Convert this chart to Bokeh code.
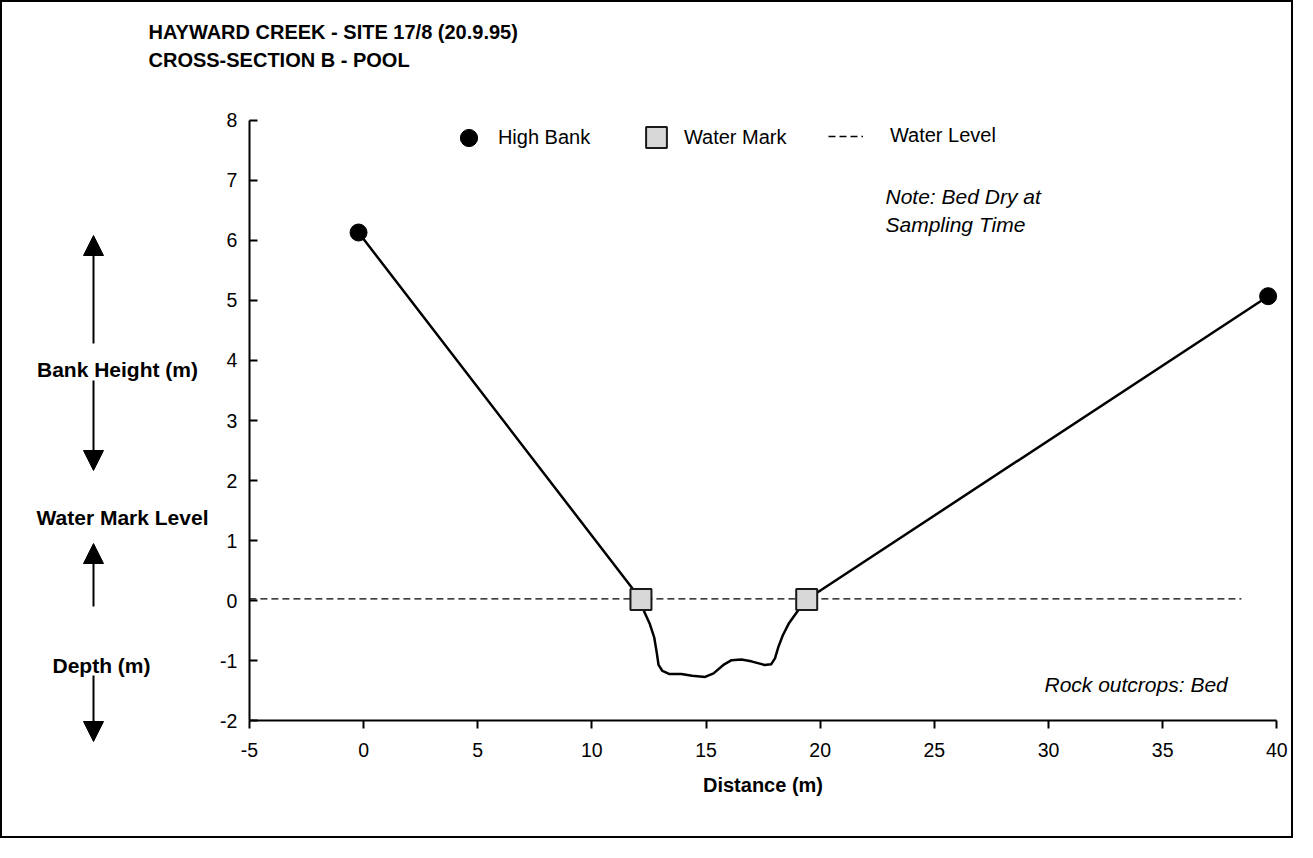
from bokeh.plotting import figure
from bokeh.models import (Range1d, FixedTicker, Label, Legend, LegendItem,
                          LinearAxis, Arrow, NormalHead)
from bokeh.embed import file_html
from bokeh.resources import INLINE

# ---------------- data ----------------
title_lines = ["HAYWARD CREEK  -  SITE 17/8  (20.9.95)", "CROSS-SECTION B  -  POOL"]
x_ticks = [-5, 0, 5, 10, 15, 20, 25, 30, 35, 40]
y_ticks = [-2, -1, 0, 1, 2, 3, 4, 5, 6, 7, 8]

bank_x = [-0.22, 39.62]          # High Bank
bank_y = [6.13, 5.07]
mark_x = [12.15, 19.41]          # Water Mark
mark_y = [0.02, 0.02]
bed_x = [12.30, 12.54, 12.73, 12.84, 12.92, 13.09, 13.38, 13.92, 14.39, 14.96,
         15.33, 15.76, 16.12, 16.55, 16.98, 17.56, 17.85, 18.02, 18.17, 18.36,
         18.64, 19.00]
bed_y = [-0.19, -0.39, -0.61, -0.86, -1.07, -1.17, -1.22, -1.22, -1.25, -1.27,
         -1.21, -1.07, -0.99, -0.98, -1.01, -1.07, -1.06, -0.96, -0.77, -0.58,
         -0.37, -0.18]
level_x = [-5.0, 38.45]          # Water Level
level_y = [0.03, 0.03]

legend_labels = ["High Bank", "Water Mark", "Water Level"]
side_labels = ["Bank Height (m)", "Water Mark Level", "Depth (m)"]
note_lines = ["Note:  Bed Dry at", "Sampling Time"]
rock_note = "Rock outcrops: Bed"
x_title = "Distance (m)"

FONT = "Liberation Sans"

profile_x = [bank_x[0], mark_x[0]] + bed_x + [mark_x[1], bank_x[1]]
profile_y = [bank_y[0], mark_y[0]] + bed_y + [mark_y[1], bank_y[1]]

# ---------------- layout (pixels) ----------------
W, H = 1293, 838
AX_L, AX_R = 246.9, 1274.3      # pixel x of -5 and 40
AX_T, AX_B = 117.7, 718.3       # pixel y of 8 and -2
XMIN, XMAX = x_ticks[0], x_ticks[-1]
YMIN, YMAX = y_ticks[0], y_ticks[-1]
sx = (AX_R - AX_L) / (XMAX - XMIN)
sy = (AX_B - AX_T) / (YMAX - YMIN)
x_range = Range1d(XMIN - AX_L / sx, XMAX + (W - AX_R) / sx)
y_range = Range1d(YMIN - (H - AX_B) / sy, YMAX + AX_T / sy)

p = figure(width=W, height=H, x_range=x_range, y_range=y_range,
           output_backend="svg", toolbar_location=None,
           x_axis_location=None, y_axis_location=None, min_border=0)
p.styles = {"border": "2px solid black"}
p.outline_line_color = None
p.grid.visible = False
p.background_fill_color = "white"
p.border_fill_color = "white"

xax = LinearAxis(fixed_location=YMIN, bounds=(XMIN, XMAX),
                 ticker=FixedTicker(ticks=x_ticks),
                 major_label_overrides={t: str(t) for t in x_ticks})
yax = LinearAxis(fixed_location=XMIN, bounds=(YMIN, YMAX),
                 ticker=FixedTicker(ticks=y_ticks),
                 major_label_overrides={t: str(t) for t in y_ticks})
for ax in (xax, yax):
    ax.axis_line_width = 2
    ax.axis_line_color = "black"
    ax.major_tick_line_width = 2
    ax.major_tick_line_color = "black"
    ax.minor_tick_line_color = None
    ax.major_label_text_font = FONT
    ax.major_label_text_font_size = "19.5px"
    ax.major_label_text_color = "black"
xax.major_tick_in = 0
xax.major_tick_out = 8
xax.major_label_standoff = 14
xax.axis_label = x_title
xax.axis_label_text_font = FONT
xax.axis_label_text_font_size = "20px"
xax.axis_label_text_font_style = "bold"
xax.axis_label_text_color = "black"
xax.axis_label_standoff = 14
yax.major_tick_in = 8
yax.major_tick_out = 0
yax.major_label_standoff = 12
p.add_layout(xax, "below")
p.add_layout(yax, "left")

# ---------------- glyphs ----------------
level_r = p.line(level_x, level_y, line_color="black", line_width=1.3, line_dash="7 4")
p.line(profile_x, profile_y, line_color="black", line_width=2.5, line_join="round")
bank_r = p.scatter(bank_x, bank_y, marker="circle", size=17,
                   fill_color="black", line_color="black")
mark_r = p.scatter(mark_x, mark_y, marker="square", size=21,
                   fill_color="#d8d8d8", line_color="#1a1a1a", line_width=2)

# ---------------- legends ----------------
FB = H - AX_B   # frame-bottom offset of the axes box


def add_legend(label, r, loc, gw, gh, standoff):
    lg = Legend(items=[LegendItem(label=label, renderers=[r])],
                location=(loc[0] + AX_L, loc[1] + FB),
                orientation="horizontal", padding=0, margin=0,
                glyph_width=gw, glyph_height=gh, label_standoff=standoff,
                border_line_color=None, background_fill_alpha=0,
                label_text_font=FONT, label_text_font_size="20px",
                label_text_color="black")
    p.add_layout(lg, "center")


add_legend(legend_labels[0], bank_r, (198, 561), 43, 43, 8)
add_legend(legend_labels[1], mark_r, (381, 557), 52, 52, 2)
add_legend(legend_labels[2], level_r, (579, 573), 35, 20, 27)


# ---------------- texts ----------------
def clabel(x, y, text, style="normal", size="20px", align="left"):
    p.add_layout(Label(x=x, y=y, x_units="canvas", y_units="canvas", text=text,
                       text_font=FONT, text_font_size=size, text_font_style=style,
                       text_align=align, text_baseline="middle", text_color="black"))


clabel(144, 27, title_lines[0], "bold", "20px")
clabel(144, 55, title_lines[1], "bold", "20px")
clabel(881, 192, note_lines[0], "italic", "21px")
clabel(881, 220, note_lines[1], "italic", "21px")
clabel(1040, 680, rock_note, "italic", "21px")
clabel(113, 365, side_labels[0], "bold", "21px", "center")
clabel(118, 513, side_labels[1], "bold", "21px", "center")
clabel(97, 661, side_labels[2], "bold", "21px", "center")


def carrow(x, y0, y1):
    p.add_layout(Arrow(x_start=x, y_start=y0, x_end=x, y_end=y1,
                       start_units="canvas", end_units="canvas", start=None,
                       end=NormalHead(size=20, fill_color="black", line_color="black"),
                       line_color="black", line_width=2))


carrow(91, 341, 233)
carrow(91, 378, 468)
carrow(91, 604, 541)
carrow(91, 673, 739)

open("out.html", "w").write(file_html(p, INLINE))
